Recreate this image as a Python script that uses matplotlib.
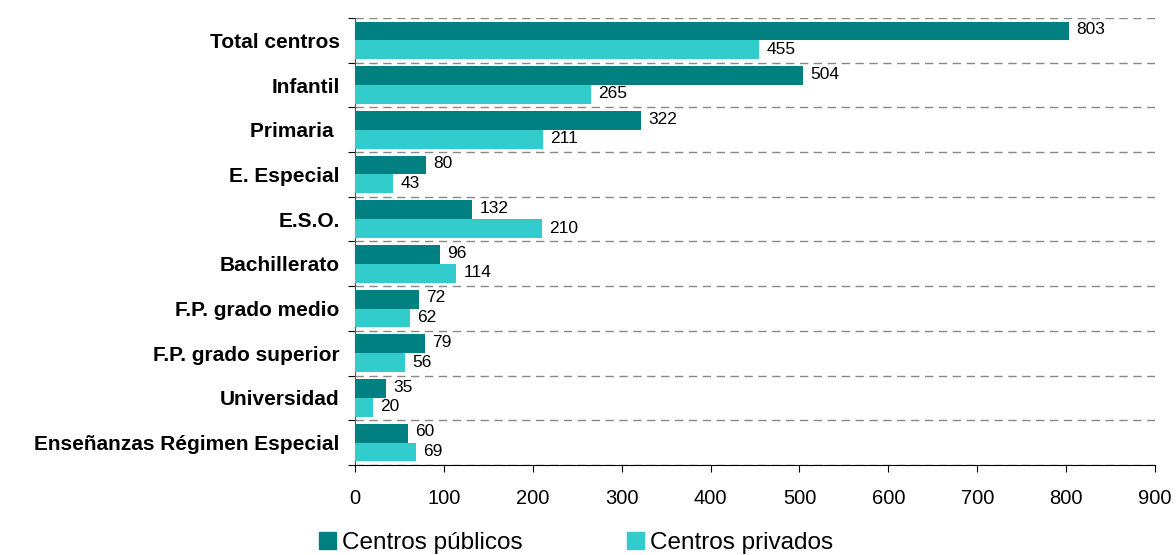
import numpy as np
import matplotlib.pyplot as plt
from matplotlib.patches import Patch

plt.rcParams['font.family'] = ['Liberation Sans', 'DejaVu Sans']

categories = ['Total centros', 'Infantil', 'Primaria ', 'E. Especial', 'E.S.O.',
              'Bachillerato', 'F.P. grado medio', 'F.P. grado superior',
              'Universidad', 'Enseñanzas Régimen Especial']
publicos = [803, 504, 322, 80, 132, 96, 72, 79, 35, 60]
privados = [455, 265, 211, 43, 210, 114, 62, 56, 20, 69]

c_pub = '#008080'
c_priv = '#33CCCC'

fig = plt.figure(figsize=(11.76, 5.55), dpi=100)
ax = fig.add_axes([355 / 1176, 90 / 555, 800 / 1176, 447 / 555])

y = np.arange(len(categories))
h = 0.42
ax.barh(y - h / 2, publicos, height=h, color=c_pub, zorder=3)
ax.barh(y + h / 2, privados, height=h, color=c_priv, zorder=3)

# value labels
for yi, v in zip(y, publicos):
    ax.text(v + 8, yi - h / 2 - 0.03, str(v), va='center', ha='left', fontsize=12.5)
for yi, v in zip(y, privados):
    ax.text(v + 8, yi + h / 2 - 0.01, str(v), va='center', ha='left', fontsize=12.5)

ax.set_xlim(0, 900)
ax.set_ylim(len(categories) - 0.5, -0.5)
ax.set_xticks(range(0, 901, 100))
ax.tick_params(axis='x', labelsize=14.5, length=5, pad=12)

# category boundaries as major ticks + dashed grid, labels on minor ticks
ax.set_yticks(np.arange(-0.5, len(categories), 1.0))
ax.set_yticklabels([])
ax.set_yticks(y, minor=True)
ax.set_yticklabels(categories, minor=True, fontsize=15, fontweight='bold')
ax.tick_params(axis='y', which='minor', length=0, pad=11)
ax.tick_params(axis='y', which='major', length=5)
ax.yaxis.grid(True, which='major', linestyle=(0, (6, 4)), color='#888888', linewidth=1, zorder=0)

for s in ['top', 'right']:
    ax.spines[s].set_visible(False)
ax.spines['left'].set_color('#555555')

handles = [Patch(color=c_pub, label='Centros públicos'),
           Patch(color=c_priv, label='Centros privados')]
fig.legend(handles=handles, loc='lower left', bbox_to_anchor=(319 / 1176, 0.002), ncol=2,
           frameon=False, fontsize=17.5, handlelength=0.7, handleheight=0.7,
           handletextpad=0.25, columnspacing=4.3, borderpad=0, borderaxespad=0)

fig.savefig('out.png', dpi=100)
